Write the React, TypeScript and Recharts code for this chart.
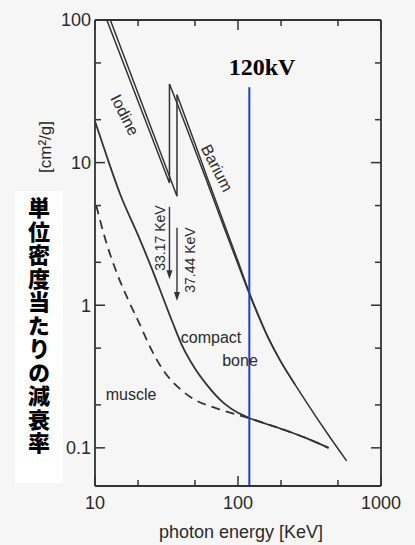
import React from 'react';
import { LineChart, Line, XAxis, YAxis, ReferenceLine } from 'recharts';

// ---- axis ticks ----
const xTicks = [10, 20, 50, 100, 200, 500, 1000];
const xTickLabels = [10, 100, 1000];
const yTicks = [0.1, 0.2, 0.5, 1, 2, 5, 10, 20, 50, 100];
const yTickLabels = [0.1, 1, 10, 100];
const xDomain = [10, 1000];
const yDomain = [0.054, 100];

// ---- series (photon energy keV -> mass attenuation cm2/g) ----
// below / across the K-edge (straight in log-log, vertical jump at the edge)
const iodineLowE = [12.1, 33.17, 33.17];
const iodineLowV = [100, 7.2, 35.6];
// above the K-edge
const iodineHighE = [33.17, 40, 50, 60, 80, 100, 120, 140, 160, 200, 250, 300, 417, 575];
const iodineHighV = [35.6, 22.1, 12.3, 7.6, 3.5, 1.94, 1.2, 0.823, 0.609, 0.399, 0.279, 0.21, 0.128, 0.081];

const bariumLowE = [12.8, 37.44, 37.44];
const bariumLowV = [100, 5.8, 29.9];
const bariumHighE = [37.44, 50, 60, 80, 100, 120, 140, 160, 200, 250];
const bariumHighV = [29.9, 13.6, 8.2, 3.72, 2.03, 1.23, 0.835, 0.615, 0.4, 0.279];

const boneE = [10, 12, 15, 20, 25, 30, 35, 40, 50, 60, 80, 100, 120, 200, 300, 430];
const boneV = [19.5, 11.3, 6.0, 3.1, 1.8, 1.12, 0.75, 0.54, 0.36, 0.28, 0.205, 0.176, 0.162, 0.136, 0.117, 0.1];

const muscleE = [10.2, 12, 14, 17, 20, 25, 30, 40, 50, 70, 100, 120, 200, 300, 430];
const muscleV = [5.0, 2.75, 1.75, 1.1, 0.78, 0.48, 0.35, 0.255, 0.217, 0.19, 0.17, 0.161, 0.136, 0.117, 0.1];

// annotations
const tubeKV = 120;
const tubeTop = 33.8;
const iodineEdge = 33.17;
const iodineArrow = [4.9, 1.52];
const bariumEdge = 37.44;
const bariumArrow = [3.5, 1.07];

const toPts = (es: number[], vs: number[]) => es.map((e, i) => ({ e, v: vs[i] }));
const iodineLow = toPts(iodineLowE, iodineLowV);
const iodineHigh = toPts(iodineHighE, iodineHighV);
const bariumLow = toPts(bariumLowE, bariumLowV);
const bariumHigh = toPts(bariumHighE, bariumHighV);
const bone = toPts(boneE, boneV);
const muscle = toPts(muscleE, muscleV);

const INK = '#333333';
const SANS = '"Liberation Sans", Arial, Helvetica, sans-serif';

const isMajor = (v: number) => Math.abs(Math.log10(v) - Math.round(Math.log10(v))) < 1e-6;

const BottomTick = (props: any) => {
  const { x, y, payload } = props;
  const v = payload.value;
  const len = isMajor(v) ? 10 : 6;
  return (
    <g>
      <line x1={x} y1={y} x2={x} y2={y - len} stroke={INK} strokeWidth={1.5} />
      {xTickLabels.includes(v) && (
        <text x={x} y={y + 23} textAnchor="middle" fontSize={18} fill="#2a2a2a" fontFamily={SANS}>
          {v}
        </text>
      )}
    </g>
  );
};

const TopTick = (props: any) => {
  const { x, y, payload } = props;
  const len = isMajor(payload.value) ? 10 : 6;
  return <line x1={x} y1={y} x2={x} y2={y + len} stroke={INK} strokeWidth={1.5} />;
};

const LeftTick = (props: any) => {
  const { x, y, payload } = props;
  const v = payload.value;
  const len = isMajor(v) ? 10 : 6;
  return (
    <g>
      <line x1={x} y1={y} x2={x + len} y2={y} stroke={INK} strokeWidth={1.5} />
      {yTickLabels.includes(v) && (
        <text x={x - 4} y={y} dy="0.36em" textAnchor="end" fontSize={18} fill="#2a2a2a" fontFamily={SANS}>
          {v}
        </text>
      )}
    </g>
  );
};

const RightTick = (props: any) => {
  const { x, y, payload } = props;
  const len = isMajor(payload.value) ? 10 : 6;
  return <line x1={x} y1={y} x2={x - len} y2={y} stroke={INK} strokeWidth={1.5} />;
};

const ArrowShape = (props: any) => {
  const { x1, y1, x2, y2 } = props;
  const top = Math.min(y1, y2);
  const bot = Math.max(y1, y2);
  return (
    <g>
      <line x1={x1} y1={top} x2={x2} y2={bot - 6} stroke={INK} strokeWidth={1.4} />
      <polygon points={`${x1 - 3},${bot - 9} ${x1 + 3},${bot - 9} ${x1},${bot}`} fill={INK} />
    </g>
  );
};

const axisLineStyle = { stroke: INK, strokeWidth: 1.8 };

const commonX = {
  dataKey: 'e',
  type: 'number' as const,
  scale: 'log' as const,
  domain: xDomain,
  ticks: xTicks,
  interval: 0 as const,
  allowDataOverflow: true,
  height: 1,
  tickLine: false,
  tickSize: 0,
  tickMargin: 0,
  axisLine: axisLineStyle,
};

const commonY = {
  type: 'number' as const,
  scale: 'log' as const,
  domain: yDomain,
  ticks: yTicks,
  interval: 0 as const,
  allowDataOverflow: true,
  width: 1,
  tickLine: false,
  tickSize: 0,
  tickMargin: 0,
  axisLine: axisLineStyle,
};

const lineCommon = { dataKey: 'v', stroke: INK, dot: false, isAnimationActive: false };

export default function App() {
  return (
    <div
      style={{
        position: 'fixed',
        left: 0,
        top: 0,
        width: 415,
        height: 545,
        background: '#f6f6f6',
        overflow: 'hidden',
      }}
    >
      <LineChart width={415} height={545} margin={{ top: 19, right: 33, bottom: 58, left: 94 }}>
        <XAxis {...commonX} tick={<BottomTick />} />
        <XAxis {...commonX} xAxisId="top" orientation="top" tick={<TopTick />} />
        <YAxis {...commonY} tick={<LeftTick />} />
        <YAxis {...commonY} yAxisId="right" orientation="right" tick={<RightTick />} />
        <Line {...lineCommon} data={iodineLow} type="linear" strokeWidth={1.5} />
        <Line {...lineCommon} data={iodineHigh} type="monotone" strokeWidth={1.5} />
        <Line {...lineCommon} data={bariumLow} type="linear" strokeWidth={1.5} />
        <Line {...lineCommon} data={bariumHigh} type="monotone" strokeWidth={1.5} />
        <Line {...lineCommon} data={bone} type="monotone" strokeWidth={1.8} />
        <Line {...lineCommon} data={muscle} type="monotone" strokeWidth={1.8} strokeDasharray="9 6" />
        <ReferenceLine
          segment={[{ x: iodineEdge, y: iodineArrow[0] }, { x: iodineEdge, y: iodineArrow[1] }]}
          shape={ArrowShape}
        />
        <ReferenceLine
          segment={[{ x: bariumEdge, y: bariumArrow[0] }, { x: bariumEdge, y: bariumArrow[1] }]}
          shape={ArrowShape}
        />
        <ReferenceLine
          segment={[{ x: tubeKV, y: tubeTop }, { x: tubeKV, y: yDomain[0] }]}
          stroke="#1e3fd0"
          strokeWidth={2}
        />
      </LineChart>
      <svg
        width={415}
        height={545}
        style={{ position: 'absolute', left: 0, top: 0, pointerEvents: 'none' }}
        fontFamily={SANS}
      >
        <text x={262} y={67} dy="0.35em" textAnchor="middle" fontSize={24} fontWeight="bold" fontFamily='"Liberation Serif", "Times New Roman", serif' fill="#000">
          120kV
        </text>
        <text x={125} y={115} dy="0.35em" textAnchor="middle" fontSize={16} fill="#2a2a2a" transform="rotate(63 125 115)">
          Iodine
        </text>
        <text x={217} y={168} dy="0.35em" textAnchor="middle" fontSize={16} fill="#2a2a2a" transform="rotate(63 217 168)">
          Barium
        </text>
        <text x={160} y={238} dy="0.35em" textAnchor="middle" fontSize={14} fill="#2a2a2a" transform="rotate(-90 160 238)">
          33.17 KeV
        </text>
        <text x={190} y={260} dy="0.35em" textAnchor="middle" fontSize={14} fill="#2a2a2a" transform="rotate(-90 190 260)">
          37.44 KeV
        </text>
        <text x={211} y={337} dy="0.35em" textAnchor="middle" fontSize={16} fill="#2a2a2a">compact</text>
        <text x={240} y={360} dy="0.35em" textAnchor="middle" fontSize={16} fill="#2a2a2a">bone</text>
        <text x={131} y={394} dy="0.35em" textAnchor="middle" fontSize={16} fill="#2a2a2a">muscle</text>
        <text x={45} y={147} dy="0.35em" textAnchor="middle" fontSize={17} fill="#2a2a2a" transform="rotate(-90 45 147)">
          [cm²/g]
        </text>
        <text x={241} y={532} dy="0.35em" textAnchor="middle" fontSize={18} fill="#2a2a2a">
          photon energy [KeV]
        </text>
      </svg>
      <div
        style={{
          position: 'absolute',
          left: 15,
          top: 191,
          width: 48,
          height: 292,
          background: '#ffffff',
        }}
      />
      <div
        style={{
          position: 'absolute',
          left: 16,
          top: 197,
          width: 46,
          writingMode: 'vertical-rl',
          fontFamily: '"Noto Sans CJK JP", sans-serif',
          fontWeight: 900,
          fontSize: 22,
          letterSpacing: 1.5,
          lineHeight: '46px',
          color: '#000',
        }}
      >
        単位密度当たりの減衰率
      </div>
    </div>
  );
}
